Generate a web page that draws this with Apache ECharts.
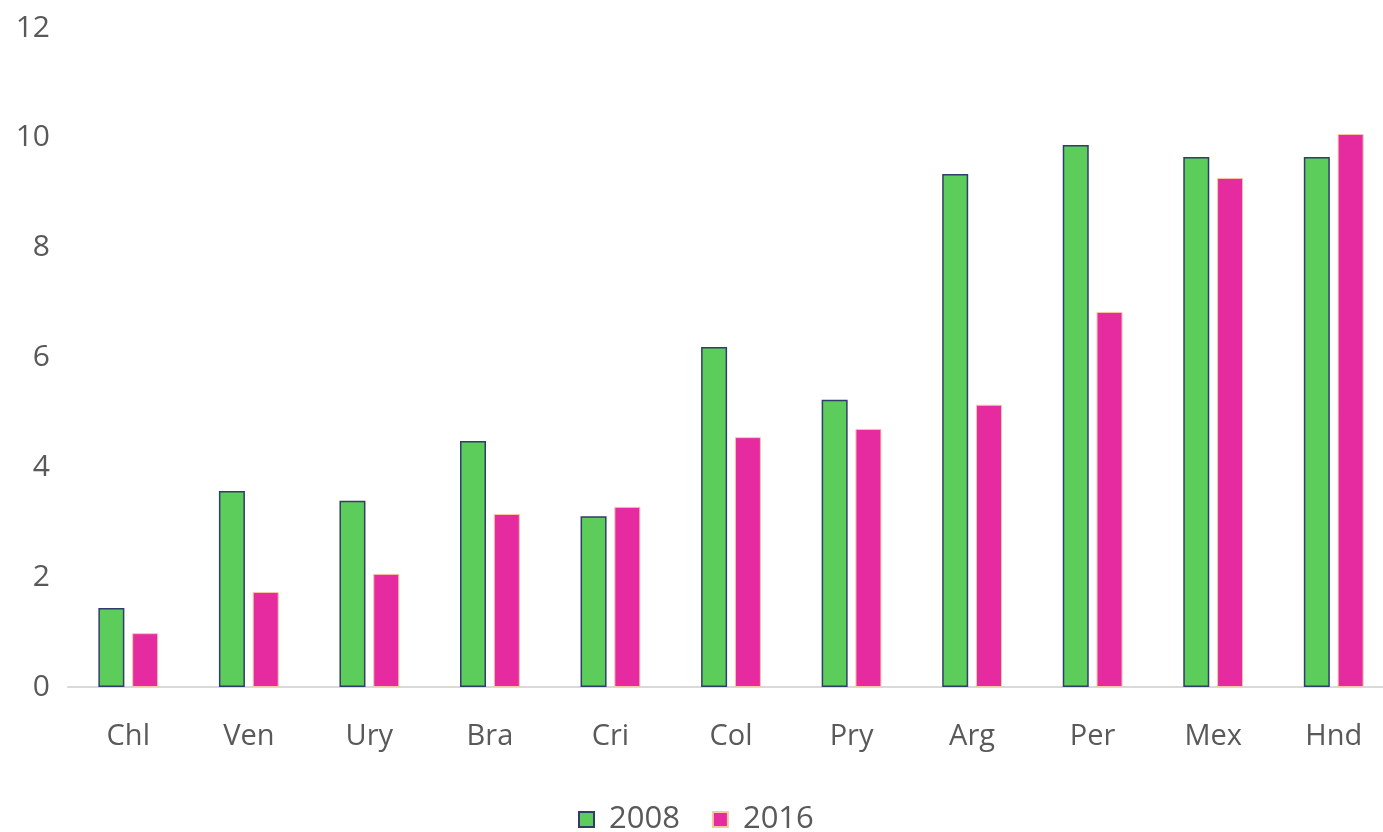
<!DOCTYPE html>
<html>
<head>
<meta charset="utf-8">
<script src="https://cdn.jsdelivr.net/npm/echarts@6/dist/echarts.min.js"></script>
<style>
  html, body { margin: 0; padding: 0; background: #fff; }
  #echart { width: 1383px; height: 832px; }
</style>
</head>
<body>
<div id="echart"></div>
<script>
var categories = ['Chl', 'Ven', 'Ury', 'Bra', 'Cri', 'Col', 'Pry', 'Arg', 'Per', 'Mex', 'Hnd'];
var values2008 = [1.44, 3.57, 3.39, 4.48, 3.11, 6.19, 5.23, 9.34, 9.87, 9.65, 9.65];
var values2016 = [0.98, 1.73, 2.06, 3.15, 3.28, 4.55, 4.70, 5.14, 6.83, 9.27, 10.07];
var yTicks = [0, 2, 4, 6, 8, 10, 12];

var myChart = echarts.init(document.getElementById("echart"));

var labelFont = 'Open Sans, Liberation Sans, sans-serif';

option = {
    animation: false,
    grid: {
        left: 68,
        width: 1326,
        top: 28,
        height: 659,
        outerBoundsMode: 'none',
        containLabel: false
    },
    legend: {
        top: 799,
        left: 573,
        itemWidth: 15,
        itemHeight: 15,
        itemGap: 32,
        icon: 'rect',
        textStyle: {
            fontSize: 31,
            color: '#595959',
            fontFamily: labelFont,
            padding: [0, 0, 0, 10]
        },
        data: ['2008', '2016']
    },
    xAxis: {
        type: 'category',
        data: categories,
        axisLine: { lineStyle: { color: '#d9d9d9', width: 2 } },
        axisTick: { show: false },
        axisLabel: {
            margin: 35,
            fontSize: 29,
            color: '#595959',
            fontFamily: labelFont
        }
    },
    yAxis: {
        type: 'value',
        min: yTicks[0],
        max: yTicks[yTicks.length - 1],
        interval: 2,
        splitLine: { show: false },
        axisLine: { show: false },
        axisTick: { show: false },
        axisLabel: {
            margin: 18,
            fontSize: 30,
            color: '#595959',
            fontFamily: labelFont
        }
    },
    series: [{
        name: '2008',
        type: 'bar',
        data: values2008,
        barWidth: 26,
        barGap: '30%',
        itemStyle: {
            color: '#5ccc5a',
            borderColor: '#2f3d6b',
            borderWidth: 1.5
        }
    }, {
        name: '2016',
        type: 'bar',
        data: values2016,
        barWidth: 26,
        itemStyle: {
            color: '#e62a9f',
            borderColor: '#f7c8a8',
            borderWidth: 1
        }
    }]
};

myChart.setOption(option);
</script>
</body>
</html>
